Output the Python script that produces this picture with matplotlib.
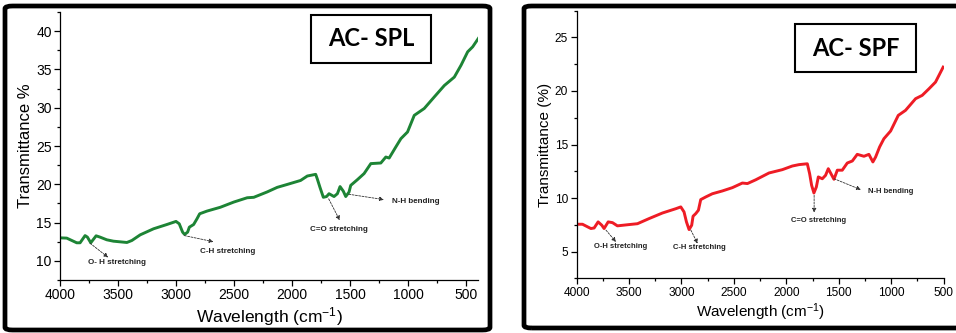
import matplotlib
matplotlib.use("Agg")
import matplotlib.pyplot as plt
from matplotlib.patches import FancyBboxPatch, Rectangle
from matplotlib.ticker import MultipleLocator

# ---------------- data ----------------
spl_x = [3991, 3942, 3856, 3827, 3784, 3764, 3735, 3689, 3655, 3597, 3540, 3424, 3381, 3309,
         3194, 3079, 3001, 2973, 2944, 2927, 2901, 2886, 2849, 2820, 2797, 2734, 2619, 2503,
         2388, 2331, 2216, 2129, 2043, 1928, 1870, 1798, 1784, 1761, 1732, 1704, 1683, 1640,
         1611, 1588, 1560, 1539, 1511, 1496, 1439, 1381, 1323, 1237, 1194, 1165, 1108, 1064,
         1007, 949, 863, 777, 690, 604, 546, 489, 446, 397]
spl_y = [13.0, 12.97, 12.36, 12.36, 13.3, 13.1, 12.36, 13.27, 13.1, 12.75, 12.57, 12.4, 12.66,
         13.4, 14.19, 14.75, 15.15, 14.84, 13.75, 13.45, 13.75, 14.4, 14.75, 15.5, 16.15, 16.5,
         17.0, 17.68, 18.24, 18.3, 19.0, 19.6, 19.98, 20.5, 21.08, 21.3, 20.7, 19.6, 18.3, 18.4,
         18.77, 18.4, 18.77, 19.7, 19.1, 18.4, 18.98, 19.86, 20.6, 21.4, 22.7, 22.78, 23.56,
         23.43, 24.87, 25.96, 26.83, 29.0, 29.9, 31.4, 32.9, 34.0, 35.55, 37.3, 37.95, 39.05]

spf_x = [4000, 3943, 3863, 3832, 3794, 3759, 3737, 3698, 3657, 3610, 3498, 3419, 3308, 3181,
         3054, 3006, 2975, 2952, 2927, 2902, 2889, 2863, 2838, 2816, 2768, 2705, 2610, 2514,
         2419, 2371, 2292, 2165, 2038, 1943, 1879, 1800, 1778, 1759, 1737, 1714, 1695, 1657,
         1626, 1600, 1575, 1546, 1514, 1467, 1419, 1371, 1324, 1260, 1213, 1175, 1149, 1111,
         1070, 1006, 933, 864, 768, 705, 641, 578, 505]
spf_y = [7.55, 7.55, 7.15, 7.2, 7.77, 7.46, 7.15, 7.77, 7.7, 7.4, 7.52, 7.6, 8.08, 8.6, 9.0,
         9.17, 8.7, 7.77, 7.05, 7.46, 8.3, 8.55, 8.86, 9.85, 10.1, 10.4, 10.66, 10.97, 11.4,
         11.35, 11.7, 12.34, 12.65, 12.99, 13.12, 13.2, 12.28, 11.19, 10.47, 11.03, 11.97, 11.8,
         12.12, 12.74, 12.28, 11.75, 12.6, 12.6, 13.27, 13.46, 14.08, 13.9, 14.08, 13.37, 13.83,
         14.77, 15.54, 16.26, 17.72, 18.19, 19.28, 19.59, 20.2, 20.83, 22.23]

x_ticks = [4000, 3500, 3000, 2500, 2000, 1500, 1000, 500]
spl_yticks = [10, 15, 20, 25, 30, 35, 40]
spf_yticks = [5, 10, 15, 20, 25]

# annotations: (text, arrow start xy, arrow end xy, text xy)
spl_notes = [
    ("O- H stretching", (3741, 12.3), (3585, 10.45), (3508, 9.8)),
    ("C-H stretching", (2929, 13.3), (2679, 12.5), (2558, 11.25)),
    ("C=O stretching", (1686, 18.1), (1591, 15.3), (1599, 14.1)),
    ("N-H bending", (1513, 18.7), (1211, 18.0), (934, 17.7)),
]
spf_notes = [
    ("O-H stretching", (3719, 7.0), (3624, 5.9), (3583, 5.43)),
    ("C-H stretching", (2910, 7.0), (2846, 5.75), (2830, 5.34)),
    ("C=O stretching", (1735, 10.25), (1735, 8.64), (1693, 7.92)),
    ("N-H bending", (1545, 11.8), (1290, 10.78), (1005, 10.65)),
]

W, H = 956, 333
plt.rcParams['font.family'] = ['Liberation Sans', 'DejaVu Sans']
plt.rcParams['mathtext.fontset'] = 'custom'
plt.rcParams['mathtext.rm'] = 'Liberation Sans'
plt.rcParams['mathtext.it'] = 'Liberation Sans:italic'
plt.rcParams['mathtext.bf'] = 'Liberation Sans:bold'
fig = plt.figure(figsize=(W / 100, H / 100), dpi=100)

def fx(px):
    return px / W

def fy(py):
    return 1 - py / H

# panel frames
for (x0, y0, x1, y1) in [(5, 6, 490, 330), (524, 6, 980, 328)]:
    fig.patches.append(FancyBboxPatch((fx(x0), fy(y1)), fx(x1 - x0), (y1 - y0) / H,
                                      boxstyle="round,pad=0,rounding_size=0.008",
                                      transform=fig.transFigure, fill=False,
                                      lw=3.4, ec='black', zorder=0))

def setup(ax, ylim, yticks, xlim, tick_fs, color, xs, ys, ylabel, xlabel_fs, ylabel_fs,
          notes, note_fs, title, box, title_fs):
    ax.plot(xs, ys, color=color, lw=2.1, solid_joinstyle='round')
    ax.set_xlim(*xlim)
    ax.set_ylim(*ylim)
    ax.set_xticks(x_ticks)
    ax.set_yticks(yticks)
    ax.xaxis.set_minor_locator(MultipleLocator(250))
    ax.yaxis.set_minor_locator(MultipleLocator(2.5))
    for s in ['top', 'right']:
        ax.spines[s].set_visible(False)
    for s in ['left', 'bottom']:
        ax.spines[s].set_linewidth(0.9)
    ax.tick_params(which='major', direction='out', length=4, width=0.9, labelsize=tick_fs, pad=2)
    ax.tick_params(which='minor', direction='out', length=2.5, width=0.9)
    ax.set_xlabel('Wavelength (cm$^{-1}$)', fontsize=xlabel_fs, labelpad=2)
    ax.set_ylabel(ylabel, fontsize=ylabel_fs, labelpad=2)
    for txt, a, b, t in notes:
        ax.annotate('', xy=b, xytext=a,
                    arrowprops=dict(arrowstyle='-|>', lw=0.6, ls=(0, (2.5, 1.5)),
                                    color='#333333', mutation_scale=6, shrinkA=0, shrinkB=0))
        ax.text(t[0], t[1], txt, fontsize=note_fs, fontweight='bold', ha='center', va='center',
                color='#222222')
    bx0, by0, bx1, by1 = box
    fig.patches.append(Rectangle((fx(bx0), fy(by1)), fx(bx1 - bx0), (by1 - by0) / H,
                                 transform=fig.transFigure, fill=False, lw=1.5, ec='black'))
    fig.text(fx((bx0 + bx1) / 2), fy((by0 + by1) / 2), title, fontsize=title_fs,
             fontweight='bold', family='Lato', ha='center', va='center')

ax1 = fig.add_axes([fx(60), fy(280), fx(478 - 60), (280 - 12) / H])
setup(ax1, (7.5, 42.5), spl_yticks, (4000, 400), 10, '#1d8435', spl_x, spl_y,
      'Transmittance %', 12.5, 12, spl_notes, 5.8, 'AC- SPL', (311, 15, 431, 63), 17)

ax2 = fig.add_axes([fx(576.5), fy(278.3), fx(943.7 - 576.5), (278.3 - 10.7) / H])
setup(ax2, (2.5, 27.5), spf_yticks, (4000, 500), 8.6, '#ee1c25', spf_x, spf_y,
      'Transmittance (%)', 11, 11, spf_notes, 5.5, 'AC- SPF', (795, 24, 916, 72), 17)

fig.savefig('out.png', dpi=100)
